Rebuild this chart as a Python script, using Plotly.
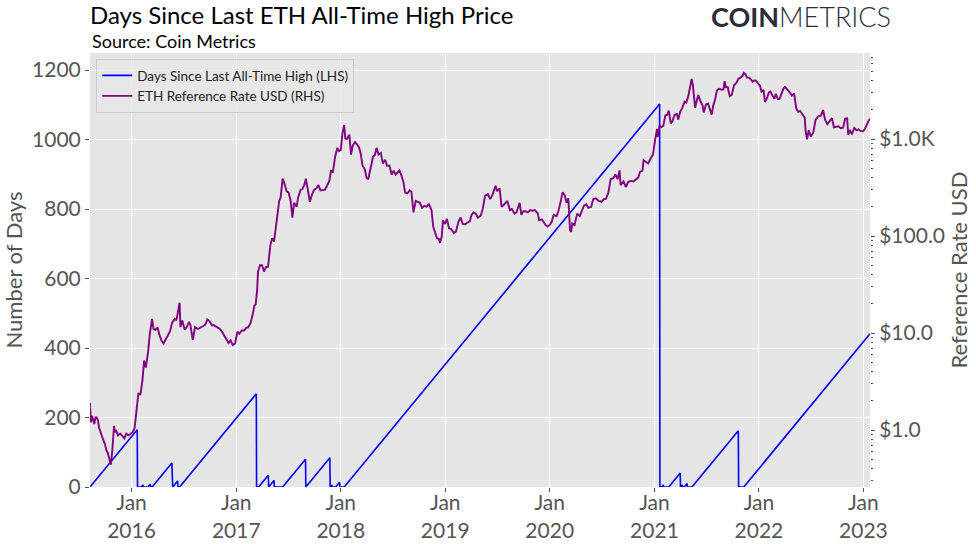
import plotly.graph_objects as go

BLUE = "#0000ff"
PURPLE = "#800080"
PANEL = "#e5e5e5"
TICK = "#555555"
FONT = "Lato, sans-serif"

# ETH reference rate (USD)
eth_dates = [
    "2015-08-09", "2015-08-12", "2015-08-16", "2015-08-20", "2015-08-24", "2015-08-28",
    "2015-09-01", "2015-09-06", "2015-09-10", "2015-09-15", "2015-09-20", "2015-09-25",
    "2015-09-30", "2015-10-05", "2015-10-10", "2015-10-15", "2015-10-21", "2015-10-26",
    "2015-11-01", "2015-11-04", "2015-11-09", "2015-11-15", "2015-11-22", "2015-11-30",
    "2015-12-07", "2015-12-14", "2015-12-21", "2015-12-28",
    "2016-01-05", "2016-01-12", "2016-01-18", "2016-01-25", "2016-02-01", "2016-02-08",
    "2016-02-14", "2016-02-20", "2016-02-28", "2016-03-05", "2016-03-13", "2016-03-18",
    "2016-03-25", "2016-04-01", "2016-04-08", "2016-04-15", "2016-04-22", "2016-04-30",
    "2016-05-08", "2016-05-15", "2016-05-22", "2016-05-31", "2016-06-06", "2016-06-12",
    "2016-06-17", "2016-06-20", "2016-06-26", "2016-07-05", "2016-07-12", "2016-07-20",
    "2016-07-25", "2016-08-02", "2016-08-10", "2016-08-20", "2016-08-30", "2016-09-08",
    "2016-09-15", "2016-09-22", "2016-09-30", "2016-10-08", "2016-10-15", "2016-10-25",
    "2016-11-05", "2016-11-15", "2016-11-25", "2016-12-05", "2016-12-12", "2016-12-20",
    "2016-12-28",
    "2017-01-05", "2017-01-12", "2017-01-20", "2017-01-28", "2017-02-05", "2017-02-12",
    "2017-02-20", "2017-02-28", "2017-03-05", "2017-03-10", "2017-03-15", "2017-03-18",
    "2017-03-25", "2017-04-01", "2017-04-08", "2017-04-15", "2017-04-22", "2017-04-30",
    "2017-05-06", "2017-05-13", "2017-05-20", "2017-05-25", "2017-05-31", "2017-06-05",
    "2017-06-12", "2017-06-18", "2017-06-26", "2017-07-03", "2017-07-10", "2017-07-16",
    "2017-07-22", "2017-07-31", "2017-08-05", "2017-08-14", "2017-08-20", "2017-08-28",
    "2017-09-01", "2017-09-08", "2017-09-15", "2017-09-22", "2017-09-30", "2017-10-08",
    "2017-10-15", "2017-10-22", "2017-10-31", "2017-11-07", "2017-11-14", "2017-11-22",
    "2017-11-28", "2017-12-05", "2017-12-12", "2017-12-20", "2017-12-26",
    "2018-01-01", "2018-01-07", "2018-01-13", "2018-01-17", "2018-01-23", "2018-01-31",
    "2018-02-06", "2018-02-12", "2018-02-20", "2018-02-28", "2018-03-06", "2018-03-12",
    "2018-03-18", "2018-03-26", "2018-04-01", "2018-04-07", "2018-04-15", "2018-04-24",
    "2018-04-30", "2018-05-06", "2018-05-13", "2018-05-21", "2018-05-28", "2018-06-05",
    "2018-06-12", "2018-06-20", "2018-06-28", "2018-07-05", "2018-07-12", "2018-07-20",
    "2018-07-25", "2018-08-01", "2018-08-08", "2018-08-14", "2018-08-22", "2018-08-30",
    "2018-09-05", "2018-09-12", "2018-09-20", "2018-09-28", "2018-10-05", "2018-10-12",
    "2018-10-20", "2018-10-28", "2018-11-05", "2018-11-14", "2018-11-20", "2018-11-26",
    "2018-12-03", "2018-12-10", "2018-12-14", "2018-12-20", "2018-12-24", "2018-12-31",
    "2019-01-07", "2019-01-14", "2019-01-22", "2019-01-31", "2019-02-08", "2019-02-16",
    "2019-02-24", "2019-03-03", "2019-03-12", "2019-03-20", "2019-03-28", "2019-04-03",
    "2019-04-10", "2019-04-18", "2019-04-25", "2019-05-05", "2019-05-12", "2019-05-20",
    "2019-05-30", "2019-06-07", "2019-06-15", "2019-06-26", "2019-07-01", "2019-07-10",
    "2019-07-17", "2019-07-25", "2019-08-06", "2019-08-15", "2019-08-22", "2019-08-31",
    "2019-09-07", "2019-09-18", "2019-09-24", "2019-10-01", "2019-10-08", "2019-10-17",
    "2019-10-25", "2019-11-01", "2019-11-10", "2019-11-20", "2019-11-25", "2019-12-05",
    "2019-12-17", "2019-12-25",
    "2020-01-01", "2020-01-08", "2020-01-15", "2020-01-25", "2020-02-01", "2020-02-08",
    "2020-02-15", "2020-02-22", "2020-02-29", "2020-03-06", "2020-03-12", "2020-03-16",
    "2020-03-20", "2020-03-28", "2020-04-06", "2020-04-15", "2020-04-22", "2020-04-30",
    "2020-05-08", "2020-05-15", "2020-05-25", "2020-06-01", "2020-06-10", "2020-06-20",
    "2020-06-30", "2020-07-08", "2020-07-15", "2020-07-24", "2020-08-01", "2020-08-10",
    "2020-08-18", "2020-08-25", "2020-09-01", "2020-09-05", "2020-09-15", "2020-09-23",
    "2020-10-01", "2020-10-10", "2020-10-20", "2020-10-28", "2020-11-05", "2020-11-12",
    "2020-11-20", "2020-11-24", "2020-12-01", "2020-12-10", "2020-12-20", "2020-12-27",
    "2021-01-03", "2021-01-10", "2021-01-12", "2021-01-19", "2021-01-25", "2021-02-01",
    "2021-02-08", "2021-02-15", "2021-02-20", "2021-02-27", "2021-03-05", "2021-03-12",
    "2021-03-20", "2021-03-25", "2021-04-01", "2021-04-08", "2021-04-16", "2021-04-22",
    "2021-04-29", "2021-05-05", "2021-05-11", "2021-05-15", "2021-05-19", "2021-05-23",
    "2021-05-28", "2021-06-03", "2021-06-10", "2021-06-18", "2021-06-22", "2021-06-30",
    "2021-07-07", "2021-07-14", "2021-07-20", "2021-07-25", "2021-08-01", "2021-08-07",
    "2021-08-14", "2021-08-22", "2021-08-30", "2021-09-03", "2021-09-07", "2021-09-14",
    "2021-09-21", "2021-09-28", "2021-10-06", "2021-10-14", "2021-10-21", "2021-10-28",
    "2021-11-05", "2021-11-09", "2021-11-15", "2021-11-20", "2021-11-28", "2021-12-04",
    "2021-12-10", "2021-12-15", "2021-12-22", "2021-12-30",
    "2022-01-05", "2022-01-10", "2022-01-17", "2022-01-22", "2022-01-28", "2022-02-05",
    "2022-02-10", "2022-02-18", "2022-02-24", "2022-03-01", "2022-03-08", "2022-03-14",
    "2022-03-22", "2022-03-28", "2022-04-02", "2022-04-10", "2022-04-18", "2022-04-26",
    "2022-05-04", "2022-05-11", "2022-05-18", "2022-05-25", "2022-06-01", "2022-06-10",
    "2022-06-13", "2022-06-18", "2022-06-24", "2022-07-01", "2022-07-10", "2022-07-18",
    "2022-07-28", "2022-08-05", "2022-08-13", "2022-08-20", "2022-08-28", "2022-09-06",
    "2022-09-13", "2022-09-20", "2022-09-28", "2022-10-06", "2022-10-14", "2022-10-22",
    "2022-10-29", "2022-11-05", "2022-11-09", "2022-11-14", "2022-11-22", "2022-11-30",
    "2022-12-08", "2022-12-15", "2022-12-22", "2022-12-31",
    "2023-01-06", "2023-01-12", "2023-01-18", "2023-01-24",
]
eth_price = [
    1.9, 1.2, 1.4, 1.25, 1.15, 1.35,
    1.35, 1.25, 1.05, 0.95, 0.88, 0.78,
    0.72, 0.62, 0.58, 0.52, 0.44, 0.62,
    1.1, 0.95, 0.98, 0.88, 0.92, 0.87,
    0.82, 0.92, 0.88, 0.91,
    0.95, 1.05, 1.45, 2.4, 2.3, 3.2,
    5.2, 4.4, 6.4, 9.8, 14.0, 11.0,
    10.8, 11.4, 9.5, 8.3, 7.8, 8.6,
    9.4, 10.5, 12.8, 14.0, 13.5, 17.5,
    20.5, 11.5, 13.5, 10.8, 11.5, 13.0,
    12.0, 8.5, 11.5, 11.0, 11.3, 11.8,
    12.2, 13.8, 13.2, 12.0, 12.0, 11.4,
    11.0, 10.0, 8.9, 7.9, 8.4, 7.5,
    7.8,
    10.3, 9.8, 10.6, 10.6, 11.3, 11.5,
    12.7, 15.8, 19.0, 19.8, 28.0, 43.0,
    50.0, 50.0, 43.0, 48.0, 48.0, 80.0,
    95.0, 88.0, 125.0, 180.0, 230.0, 250.0,
    390.0, 350.0, 290.0, 280.0, 230.0, 155.0,
    220.0, 200.0, 250.0, 300.0, 305.0, 345.0,
    390.0, 300.0, 225.0, 265.0, 300.0, 310.0,
    335.0, 295.0, 300.0, 300.0, 330.0, 370.0,
    470.0, 460.0, 650.0, 810.0, 750.0,
    770.0, 1150.0, 1390.0, 1010.0, 1000.0, 1110.0,
    690.0, 860.0, 930.0, 870.0, 820.0, 700.0,
    530.0, 490.0, 400.0, 385.0, 500.0, 660.0,
    680.0, 810.0, 690.0, 720.0, 560.0, 610.0,
    530.0, 530.0, 430.0, 470.0, 430.0, 460.0,
    475.0, 420.0, 360.0, 280.0, 275.0, 295.0,
    285.0, 175.0, 230.0, 225.0, 220.0, 195.0,
    205.0, 200.0, 215.0, 185.0, 125.0, 110.0,
    95.0, 93.0, 85.0, 100.0, 145.0, 133.0,
    150.0, 120.0, 118.0, 107.0, 112.0, 140.0,
    155.0, 133.0, 132.0, 138.0, 142.0, 165.0,
    175.0, 170.0, 155.0, 162.0, 190.0, 260.0,
    270.0, 240.0, 265.0, 330.0, 290.0, 310.0,
    200.0, 210.0, 230.0, 185.0, 190.0, 170.0,
    175.0, 220.0, 165.0, 180.0, 180.0, 175.0,
    185.0, 182.0, 185.0, 172.0, 146.0, 148.0,
    130.0, 125.0,
    130.0, 140.0, 165.0, 160.0, 183.0, 225.0,
    282.0, 265.0, 220.0, 245.0, 115.0, 110.0,
    135.0, 130.0, 170.0, 160.0, 180.0, 205.0,
    212.0, 195.0, 200.0, 240.0, 245.0, 230.0,
    225.0, 240.0, 240.0, 280.0, 385.0, 395.0,
    430.0, 385.0, 475.0, 335.0, 365.0, 320.0,
    360.0, 370.0, 365.0, 385.0, 400.0, 460.0,
    470.0, 605.0, 590.0, 560.0, 640.0, 690.0,
    975.0, 1270.0, 1050.0, 1380.0, 1320.0, 1370.0,
    1750.0, 1780.0, 1960.0, 1450.0, 1530.0, 1770.0,
    1810.0, 1590.0, 1920.0, 2080.0, 2430.0, 2370.0,
    2750.0, 3500.0, 4170.0, 3640.0, 2440.0, 2100.0,
    2420.0, 2850.0, 2470.0, 2230.0, 1880.0, 2270.0,
    2320.0, 1990.0, 1780.0, 2190.0, 2560.0, 3160.0,
    3290.0, 3240.0, 3230.0, 3940.0, 3430.0, 3420.0,
    2760.0, 2850.0, 3580.0, 3790.0, 4160.0, 4290.0,
    4480.0, 4810.0, 4630.0, 4300.0, 4290.0, 4100.0,
    3900.0, 4010.0, 4000.0, 3710.0,
    3520.0, 3080.0, 3210.0, 2410.0, 2600.0, 3020.0,
    3080.0, 2780.0, 2600.0, 2920.0, 2580.0, 2590.0,
    3000.0, 3330.0, 3450.0, 3260.0, 3050.0, 2810.0,
    2940.0, 2080.0, 1910.0, 1940.0, 1820.0, 1660.0,
    1210.0, 990.0, 1230.0, 1060.0, 1170.0, 1580.0,
    1720.0, 1730.0, 1990.0, 1580.0, 1420.0, 1560.0,
    1640.0, 1320.0, 1330.0, 1350.0, 1290.0, 1310.0,
    1620.0, 1630.0, 1100.0, 1240.0, 1120.0, 1300.0,
    1230.0, 1260.0, 1210.0, 1200.0,
    1270.0, 1420.0, 1520.0, 1620.0,
]

# days since last all-time high: corners of the sawtooth
ath_dates = [
    "2015-08-09", "2016-01-21", "2016-01-22", "2016-02-04", "2016-02-10", "2016-02-11",
    "2016-02-28", "2016-03-07", "2016-03-08", "2016-03-13", "2016-05-21", "2016-05-22",
    "2016-05-24", "2016-06-10", "2016-06-11", "2016-06-17", "2017-03-12", "2017-03-13",
    "2017-03-20", "2017-04-23", "2017-04-24", "2017-05-13", "2017-05-14", "2017-06-12",
    "2017-08-31", "2017-09-01", "2017-11-24", "2017-11-25", "2017-12-01", "2017-12-02",
    "2017-12-14", "2017-12-28", "2017-12-29", "2018-01-13", "2021-01-19", "2021-01-20",
    "2021-01-26", "2021-02-01", "2021-02-02", "2021-02-20", "2021-04-01", "2021-04-02",
    "2021-04-08", "2021-04-09", "2021-04-15", "2021-04-25", "2021-04-26", "2021-05-12",
    "2021-10-21", "2021-10-22", "2021-11-09", "2023-01-24",
]
ath_days = [
    0, 165, 0, 0, 6, 0,
    0, 8, 0, 0, 69, 0,
    0, 17, 0, 0, 268, 0,
    0, 34, 0, 19, 0, 0,
    80, 0, 84, 0, 6, 0,
    0, 14, 0, 0, 1102, 0,
    0, 6, 0, 0, 40, 0,
    6, 0, 0, 10, 0, 0,
    162, 0, 0, 441,
]

year_ticks = ["2016-01-01", "2017-01-01", "2018-01-01", "2019-01-01",
              "2020-01-01", "2021-01-01", "2022-01-01", "2023-01-01"]
year_labels = ["Jan<br>2016", "Jan<br>2017", "Jan<br>2018", "Jan<br>2019",
               "Jan<br>2020", "Jan<br>2021", "Jan<br>2022", "Jan<br>2023"]
price_ticks = [1, 10, 100, 1000]
price_labels = ["$1.0", "$10.0", "$100.0", "$1.0K"]
price_minor = [m * p for p in (0.1, 1, 10, 100, 1000) for m in range(2, 10)]

fig = go.Figure()
fig.add_trace(go.Scatter(
    x=ath_dates, y=ath_days, name="Days Since Last All-Time High (LHS)",
    mode="lines", line=dict(color=BLUE, width=1.6),
))
fig.add_trace(go.Scatter(
    x=eth_dates, y=eth_price, name="ETH Reference Rate USD (RHS)", yaxis="y2",
    mode="lines", line=dict(color=PURPLE, width=1.9),
))

axis_font = dict(family=FONT, size=21, color=TICK)
fig.update_layout(
    width=976, height=544,
    margin=dict(l=90, r=106, t=53, b=57, autoexpand=False),
    paper_bgcolor="white", plot_bgcolor=PANEL,
    font=dict(family=FONT, color="#222222"),
    showlegend=True,
    legend=dict(
        x=0.008, y=0.986, xanchor="left", yanchor="top",
        bgcolor="rgba(232,232,232,0.85)", bordercolor="#cccccc", borderwidth=1,
        font=dict(family=FONT, size=13.5, color="#222222"),
        tracegroupgap=0, itemwidth=30,
    ),
    title=dict(
        text="Days Since Last ETH All-Time High Price",
        x=90 / 976, xanchor="left", y=1 - 16 / 544, yanchor="middle",
        font=dict(family=FONT, size=24, color="#000000"),
    ),
    xaxis=dict(
        type="date", range=["2015-08-09", "2023-01-24"],
        tickvals=year_ticks, ticktext=year_labels,
        ticks="outside", ticklen=4, tickcolor=TICK, tickfont=axis_font,
        ticklabelstandoff=-7,
        showgrid=True, gridcolor="white", gridwidth=1, showline=False, zeroline=False,
    ),
    yaxis=dict(
        range=[0, 1249], dtick=200, tick0=0,
        ticks="outside", ticklen=4, tickcolor=TICK, tickfont=axis_font,
        showgrid=True, gridcolor="white", gridwidth=1, zeroline=False, showline=False,
        title=dict(text="Number of Days", font=dict(family=FONT, size=22, color=TICK),
                   standoff=8),
    ),
    yaxis2=dict(
        type="log", overlaying="y", side="right",
        range=[-0.5876, 3.8866],
        tickvals=price_ticks, ticktext=price_labels,
        ticks="outside", ticklen=4, tickcolor=TICK, tickfont=axis_font,
        minor=dict(tickvals=price_minor, ticks="outside", ticklen=2,
                   tickcolor=TICK, showgrid=False),
        showgrid=False, zeroline=False, showline=False,
        title=dict(text="Reference Rate USD", font=dict(family=FONT, size=22, color=TICK),
                   standoff=6),
    ),
)

fig.add_annotation(
    text="Source: Coin Metrics", xref="paper", yref="paper",
    x=0, y=1 + (53 - 41) / 434, xanchor="left", yanchor="middle",
    showarrow=False, font=dict(family=FONT, size=18, color="#000000"),
)
fig.add_annotation(
    text="<b>COIN</b>METRICS", xref="paper", yref="paper",
    x=(893 - 90) / 780, y=1 + (53 - 17) / 434, xanchor="right", yanchor="middle",
    showarrow=False, font=dict(family=FONT, size=27, color="#2b2d3b", weight=300),
)

# the page's default body margin would shift the fixed-size figure
fig.write_html("out.html", config={"displayModeBar": False},
               post_script="document.body.style.margin = '0';")
